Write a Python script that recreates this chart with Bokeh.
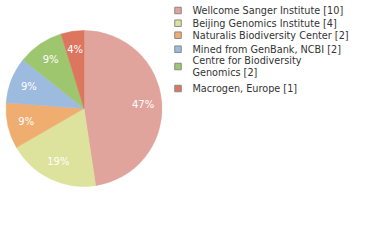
import math
from bokeh.plotting import figure
from bokeh.models import Range1d, ColumnDataSource
from bokeh.embed import file_html
from bokeh.resources import INLINE
from bokeh.core.properties import value

labels = ["Wellcome Sanger Institute [10]", "Beijing Genomics Institute [4]",
          "Naturalis Biodiversity Center [2]", "Mined from GenBank, NCBI [2]",
          "Centre for Biodiversity\nGenomics [2]", "Macrogen, Europe [1]"]
counts = [10, 4, 2, 2, 2, 1]
colors = ["#e0a49c", "#dde29d", "#efad6f", "#9dbadf", "#9dc66f", "#dd765f"]

W, H = 380, 240
cx, cy, r = 83.5, H - 108, 78
total = sum(counts)

p = figure(width=W, height=H, x_range=Range1d(0, W), y_range=Range1d(0, H),
           output_backend="svg", toolbar_location=None, min_border=0)
p.axis.visible = False
p.grid.visible = False
p.outline_line_color = None
p.background_fill_color = "white"

starts, ends, lx, ly, pct = [], [], [], [], []
cum = 0
for c in counts:
    a0 = math.pi / 2 - 2 * math.pi * (cum + c) / total
    a1 = math.pi / 2 - 2 * math.pi * cum / total
    starts.append(a0)
    ends.append(a1)
    mid = (a0 + a1) / 2
    lx.append(cx + 0.76 * r * math.cos(mid))
    ly.append(cy + 0.76 * r * math.sin(mid))
    pct.append("%d%%" % int(100 * c / total))
    cum += c

src = ColumnDataSource(dict(s=starts, e=ends, c=colors, lx=lx, ly=ly, t=pct))
p.wedge(x=cx, y=cy, radius=r, start_angle="s", end_angle="e", fill_color="c",
        line_color="c", line_width=0.5, source=src)
p.text(x="lx", y="ly", text="t", source=src, text_color="white",
       text_font=value("DejaVu Sans"), text_font_size="10px",
       text_align="center", text_baseline="middle")

# legend
sq_y = [10, 22.7, 34.7, 48.7, 66, 88]
p.rect(x=[177.5] * len(labels), y=[H - y for y in sq_y], width=6.5, height=6.5,
       fill_color=colors, line_color="#888888", line_width=1)
tx, ty, tt = [], [], []
for lab, y in zip(labels, sq_y):
    lines = lab.split("\n")
    n = len(lines)
    for i, ln in enumerate(lines):
        tx.append(192)
        ty.append(H - (y + (i - (n - 1) / 2) * 11.5))
        tt.append(ln)
p.text(x=tx, y=ty, text=tt, text_color="#333333",
       text_font=value("DejaVu Sans"), text_font_size="9.7px",
       text_align="left", text_baseline="middle")

open("out.html", "w").write(file_html(p, INLINE))
